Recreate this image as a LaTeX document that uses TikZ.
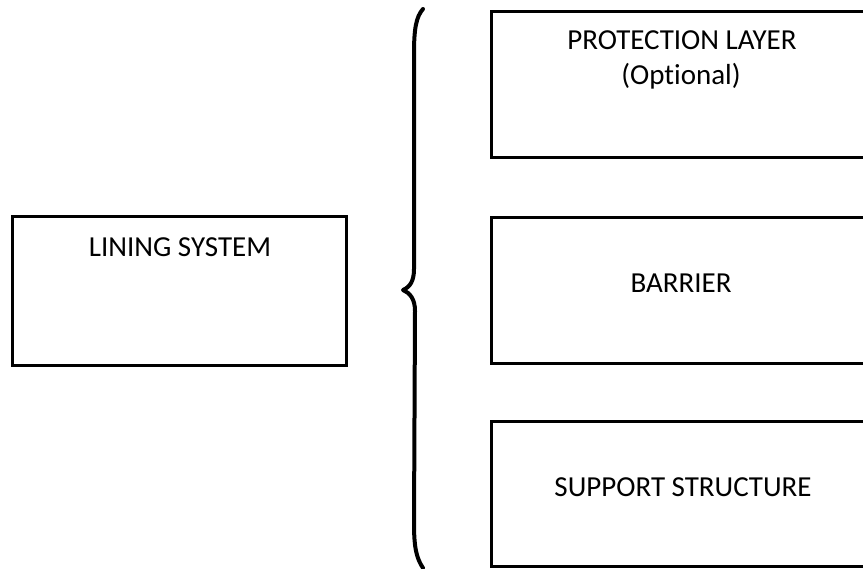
\documentclass[tikz,border=0pt]{standalone}
\usepackage{fontspec}
\setmainfont[Ligatures=NoCommon]{Carlito}

\tikzset{
  box/.style={
    draw,line width=3pt,rectangle,inner sep=0pt,
  },
  label/.style={
    font=\fontsize{29}{35}\selectfont,inner sep=0pt,anchor=base,
  },
  brace/.style={
    line width=4pt,line cap=round,line join=round,
  }
}

\begin{document}
\begin{tikzpicture}[x=1pt,y=1pt]
    \useasboundingbox (0,0) rectangle (863,569);

    \node[box,minimum width=334pt,minimum height=149pt] (lining)     at (179,277.5) {};
    \node[box,minimum width=390pt,minimum height=146.5pt] (protection) at (686,484.25) {};
    \node[box,minimum width=390pt,minimum height=146pt] (barrier)    at (686,278) {};
    \node[box,minimum width=390pt,minimum height=145pt] (support)    at (686,74.5) {};

    \node[label] (liningtext)  at (180,312) {LINING SYSTEM};
    \node[label] (prottext)    at (682,519) {PROTECTION LAYER};
    \node[label] (opttext)     at (681,484) {(Optional)};
    \node[label] (barriertext) at (681,276) {BARRIER};
    \node[label] (supporttext) at (683,72)  {SUPPORT STRUCTURE};

    \coordinate (bracetop) at (423,560);
    \coordinate (bracetip) at (403,279);
    \coordinate (bracebot) at (423,1);

    \draw[brace] (bracetop) .. controls (416,552) and (414,540) .. (414,515)
      -- (414,300) .. controls (414,288) and (410,282) .. (bracetip)
      .. controls (410,276) and (415,270) .. (415,258)
      -- (414,45) .. controls (414,20) and (417,10) .. (bracebot);
  \end{tikzpicture}
\end{document}
